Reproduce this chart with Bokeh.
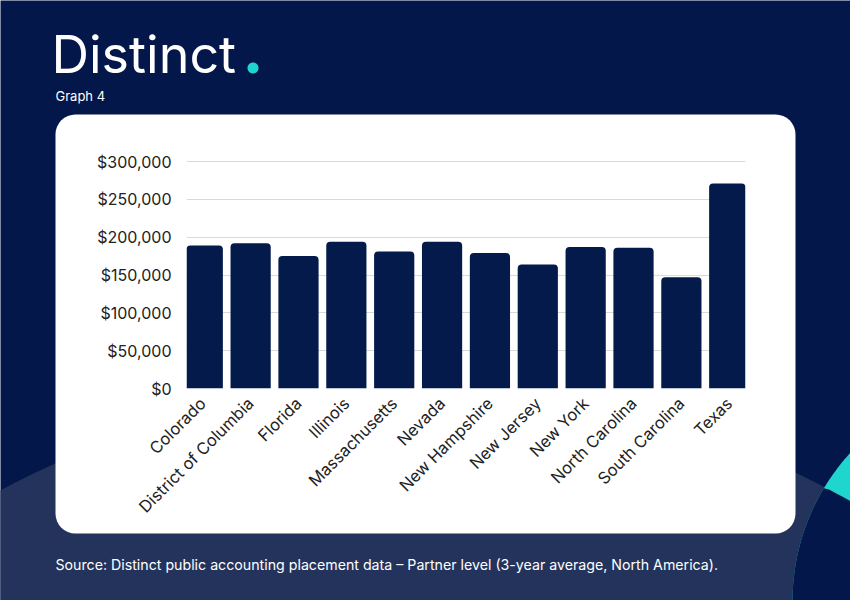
import numpy as np
from bokeh.plotting import figure
from bokeh.models import (FactorRange, Range1d, FixedTicker, NumeralTickFormatter, Label)
from bokeh.embed import file_html
from bokeh.resources import INLINE

# Partner-level average placement salary by state
states = ["Colorado", "District of Columbia", "Florida", "Illinois", "Massachusetts",
          "Nevada", "New Hampshire", "New Jersey", "New York", "North Carolina",
          "South Carolina", "Texas"]
salaries = [189000, 192000, 175000, 194000, 181000, 194000, 179000, 164000,
            187000, 186000, 147000, 271000]
y_ticks = [0, 50000, 100000, 150000, 200000, 250000, 300000]

NAVY = "#04174a"
BAR = "#031a4b"
LIGHT = "#24335c"
CYAN = "#1fd6cf"
FONT = "Inter"
W, H = 850, 600

# ---------------------------------------------------------------- backdrop
# pixel-space canvas (y grows downwards) holding the page decoration and texts
bg = figure(width=W, height=H, x_range=Range1d(0, W), y_range=Range1d(H, 0),
            x_axis_type=None, y_axis_type=None, min_border=0,
            output_backend="svg", toolbar_location=None)
bg.background_fill_color = NAVY
bg.border_fill_color = NAVY
bg.outline_line_color = None
bg.grid.visible = False

big_c = (415.0, 1268.0, 882.0)
right_c = (1012.0, 601.0, 220.0)


def circle_pts(cx, cy, r, n=720):
    t = np.linspace(0, 2 * np.pi, n, endpoint=False)
    return cx + r * np.cos(t), cy + r * np.sin(t)


def inside(x, y, c):
    return (x - c[0]) ** 2 + (y - c[1]) ** 2 <= c[2] ** 2


bx, by = circle_pts(*big_c)
rx, ry = circle_pts(*right_c)
ix = np.concatenate([rx[inside(rx, ry, big_c)], bx[inside(bx, by, right_c)]])
iy = np.concatenate([ry[inside(rx, ry, big_c)], by[inside(bx, by, right_c)]])
order = np.argsort(np.arctan2(iy - 600.0, ix - 900.0))

bg.patch(bx, by, fill_color=LIGHT, line_color=None)
bg.patch(rx, ry, fill_color=CYAN, line_color=None)
bg.patch(ix[order], iy[order], fill_color=NAVY, line_color=None)

# white card behind the chart
bg.quad(left=[55], right=[795], top=[114], bottom=[533], fill_color="white",
        line_color=None, border_radius=20)

# logo, caption and source line
bg.add_layout(Label(x=51, y=54, text="Distinct", text_font=FONT, text_font_size="52px",
                    text_color="white", text_baseline="middle"))
dx, dy = circle_pts(252.5, 67.5, 5.5, 72)
bg.patch(dx, dy, fill_color=CYAN, line_color=None)
bg.add_layout(Label(x=55, y=95, text="Graph 4", text_font=FONT, text_font_size="13px",
                    text_color="white", text_baseline="middle"))
bg.add_layout(Label(x=55, y=564,
                    text="Source: Distinct public accounting placement data \u2013 Partner level (3-year average, North America).",
                    text_font=FONT, text_font_size="14.2px", text_color="white",
                    text_baseline="middle"))

# ---------------------------------------------------------------- bar chart
FL, FR, FT, FB = 186, 745, 160, 388   # plot frame, canvas pixels

p = figure(width=W, height=H,
           x_range=FactorRange(factors=states, range_padding=-0.16,
                               range_padding_units="absolute"),
           y_range=Range1d(0, 300000 * (FB - FT) / (FB - FT - 1)),
           output_backend="svg", toolbar_location=None,
           min_border_left=FL, min_border_right=W - FR,
           min_border_top=FT, min_border_bottom=H - FB,
           margin=(-H, 0, 0, 0))
p.border_fill_color = None
p.background_fill_color = None
p.outline_line_color = None

p.vbar(x=states, top=salaries, width=0.84, fill_color=BAR, line_color=None,
       border_radius=(4, 4, 0, 0))

p.yaxis.ticker = FixedTicker(ticks=y_ticks)
p.yaxis.formatter = NumeralTickFormatter(format="$0,0")
p.yaxis.axis_line_color = None
p.yaxis.major_tick_line_color = None
p.yaxis.minor_tick_line_color = None
p.yaxis.major_tick_out = 0
p.yaxis.major_label_standoff = 15
p.yaxis.major_label_text_font = FONT
p.yaxis.major_label_text_font_size = "16px"
p.yaxis.major_label_text_color = "#222222"

p.xaxis.axis_line_color = None
p.xaxis.major_tick_line_color = None
p.xaxis.major_tick_out = 0
p.xaxis.major_label_orientation = np.pi / 4
p.xaxis.major_label_standoff = 12
p.xaxis.major_label_text_font = FONT
p.xaxis.major_label_text_font_size = "16.5px"
p.xaxis.major_label_text_color = "#222222"

p.xgrid.grid_line_color = None
p.ygrid.grid_line_color = "#d9d9d9"
p.ygrid.grid_line_width = 1

# two independent roots: the backdrop, then the chart pulled up over it
open("out.html", "w").write(file_html([bg, p], INLINE))
